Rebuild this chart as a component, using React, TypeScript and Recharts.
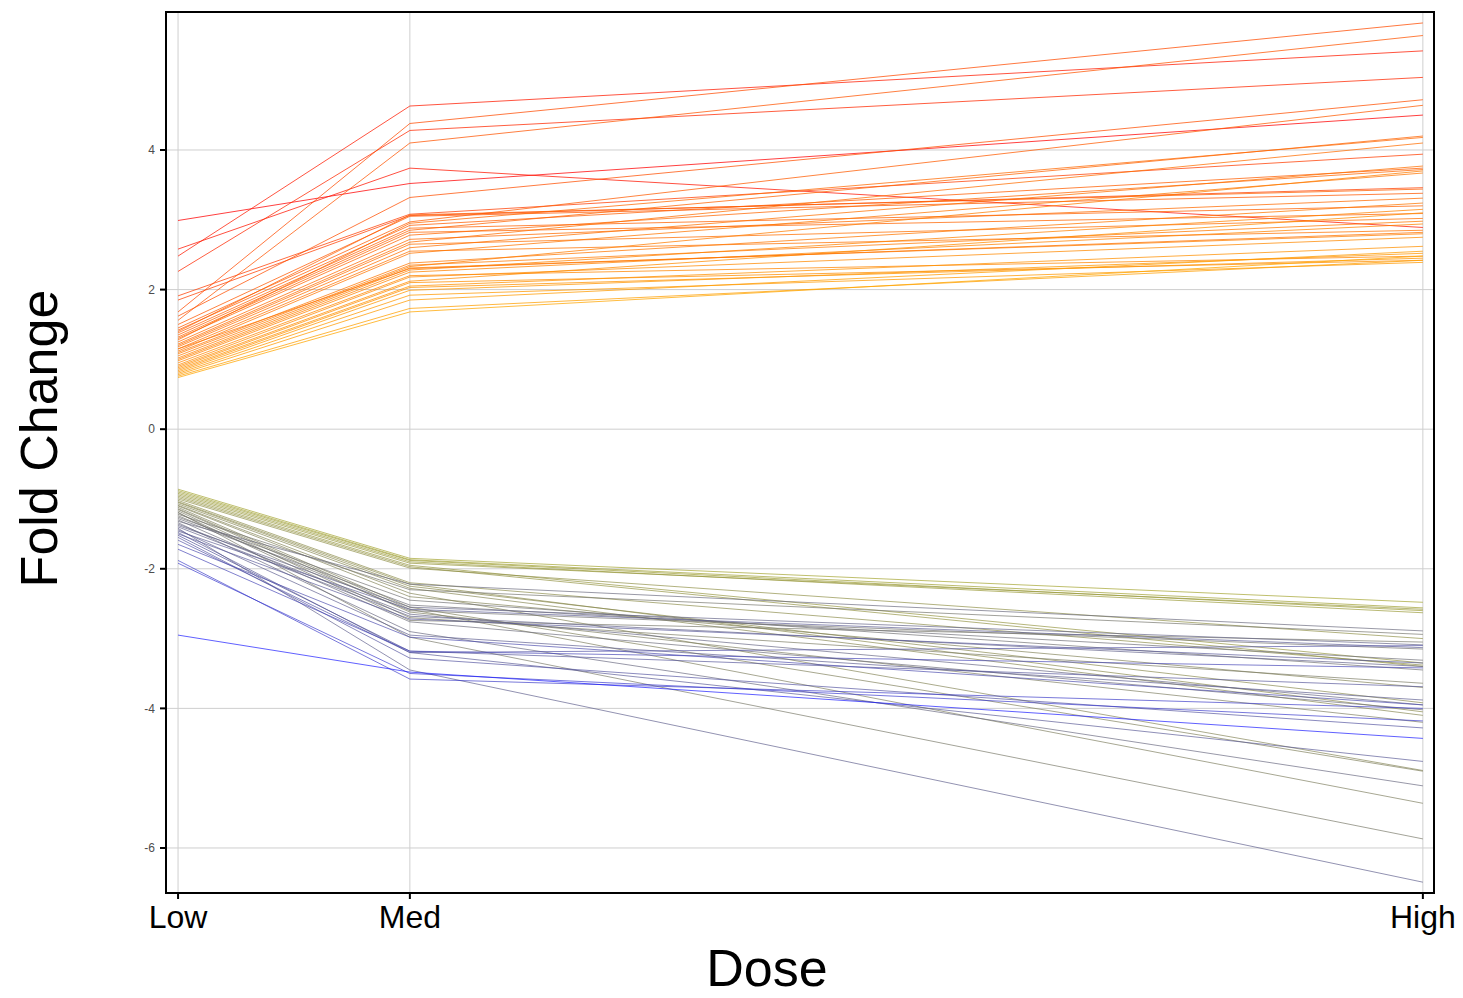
import { LineChart, Line, XAxis, YAxis, CartesianGrid, Label, ReferenceArea } from "recharts";

const FONT = '"Liberation Sans", Arial, sans-serif';

// dose positions on the x axis and their labels
const doses = [1, 2, 6.37];
const doseLabels = ["Low", "Med", "High"];
const yTicks = [-6, -4, -2, 0, 2, 4];
const xDomain = [0.948, 6.418];
const yDomain = [-6.645, 5.977];

// up-regulated genes: fold change at Low / Med / High
const upLow = [2.99, 2.58, 2.48, 2.26, 1.91, 1.85, 1.68, 1.62, 1.56, 1.5, 1.45, 1.42, 1.38, 1.35, 1.32, 1.3, 1.28, 1.25, 1.22, 1.2, 1.18, 1.15, 1.12, 1.1, 1.08, 1.05, 1.02, 1.0, 0.98, 0.95, 0.92, 0.9, 0.88, 0.86, 0.84, 0.82, 0.8, 0.78, 0.76, 0.74, 1.4, 1.15];
const upMed = [3.52, 3.74, 4.63, 4.28, 3.08, 3.06, 4.38, 3.32, 4.1, 3.05, 2.97, 2.92, 2.88, 2.85, 2.82, 2.78, 2.95, 2.72, 2.68, 2.65, 2.6, 2.55, 2.52, 2.38, 2.35, 2.33, 2.31, 2.28, 2.25, 2.2, 2.18, 2.12, 2.1, 2.05, 2.03, 1.99, 1.92, 1.85, 1.73, 1.68, 3.07, 2.3];
const upHigh = [4.5, 2.89, 5.42, 5.04, 3.94, 3.46, 5.82, 4.72, 5.64, 3.38, 4.64, 3.74, 3.2, 4.2, 3.09, 3.72, 4.18, 3.31, 4.1, 3.02, 3.77, 2.85, 3.67, 3.24, 2.98, 3.7, 2.8, 3.15, 2.94, 2.48, 2.75, 3.1, 2.42, 2.62, 2.45, 2.52, 2.39, 2.55, 2.42, 2.48, 3.44, 2.82];

// down-regulated genes
const downLow = [-0.86, -0.88, -0.9, -0.92, -0.94, -0.96, -0.98, -1.0, -1.02, -1.04, -1.05, -1.07, -1.09, -1.1, -1.12, -1.14, -1.15, -1.17, -1.19, -1.2, -1.22, -1.24, -1.26, -1.28, -1.3, -1.32, -1.34, -1.36, -1.38, -1.4, -1.42, -1.44, -1.46, -1.48, -1.5, -1.52, -1.55, -1.59, -1.65, -1.72, -1.88, -1.92, -2.95];
const downMed = [-1.85, -1.87, -1.88, -1.9, -1.92, -1.95, -1.97, -1.99, -2.2, -2.22, -2.25, -2.28, -2.35, -2.4, -2.55, -2.58, -2.62, -2.7, -2.98, -2.74, -2.3, -2.6, -2.45, -2.52, -2.76, -2.22, -2.9, -2.65, -2.55, -2.68, -3.45, -2.95, -2.58, -3.2, -2.72, -3.18, -3.28, -3.2, -2.98, -3.18, -3.58, -3.5, -3.48];
const downHigh = [-2.48, -2.56, -2.6, -2.63, -2.58, -3.35, -3.4, -3.0, -3.38, -4.05, -3.92, -4.1, -4.89, -3.7, -4.9, -5.36, -4.2, -3.64, -5.87, -3.05, -2.94, -3.15, -3.45, -3.31, -4.02, -2.89, -5.11, -3.95, -3.09, -3.4, -6.49, -3.88, -3.13, -4.76, -3.35, -3.69, -4.28, -3.1, -3.95, -3.42, -4.0, -4.18, -4.43];

const mix = (a: number[], b: number[], t: number) =>
  `rgb(${a.map((c, i) => Math.round(c + (b[i] - c) * t)).join(",")})`;

const upColor = (low: number) => {
  const t = Math.min(1, Math.max(0, (low - 0.74) / (2.99 - 0.74)));
  return mix([255, 165, 0], [255, 0, 0], Math.pow(t, 0.7));
};

const downColor = (low: number) => {
  const t = Math.min(1, Math.max(0, (low + 2.95) / (2.95 - 0.86)));
  return mix([20, 20, 255], [160, 160, 40], t * t);
};

const rows = doses.map((dose, i) => {
  const row: Record<string, number> = { dose };
  upLow.forEach((_, j) => {
    row[`u${j}`] = [upLow[j], upMed[j], upHigh[j]][i];
  });
  downLow.forEach((_, j) => {
    row[`d${j}`] = [downLow[j], downMed[j], downHigh[j]][i];
  });
  return row;
});

const series = [
  ...upLow.map((v, j) => ({ key: `u${j}`, color: upColor(v), op: 0.75 })),
  ...downLow.map((v, j) => ({ key: `d${j}`, color: downColor(v), op: 0.68 })),
];

const YTitle = ({ viewBox }: any) => {
  const x = viewBox.x + 57;
  const y = viewBox.y + viewBox.height / 2 - 14;
  return (
    <text
      x={x}
      y={y}
      transform={`rotate(-90, ${x}, ${y})`}
      textAnchor="middle"
      fontSize={52}
      fontFamily={FONT}
      fill="#000"
    >
      Fold Change
    </text>
  );
};

const XTitle = ({ viewBox }: any) => (
  <text
    x={viewBox.x + viewBox.width / 2 - 33}
    y={viewBox.y + viewBox.height - 12}
    textAnchor="middle"
    fontSize={52}
    fontFamily={FONT}
    fill="#000"
  >
    Dose
  </text>
);

const border = { stroke: "#000", strokeWidth: 2 };

export default function App() {
  return (
    <div style={{ position: "absolute", left: 0, top: 0, background: "#fff" }}>
      <LineChart
        width={1463}
        height={998}
        data={rows}
        margin={{ top: 12, right: 29, left: 0, bottom: 0 }}
      >
        <CartesianGrid stroke="#cfcfcf" strokeWidth={1} />
        <XAxis
          dataKey="dose"
          type="number"
          domain={xDomain}
          ticks={doses}
          allowDataOverflow
          tickFormatter={(v: number) => doseLabels[doses.indexOf(v)]}
          height={105}
          tick={{ fontSize: 32, fill: "#000", fontFamily: FONT }}
          tickMargin={6}
          tickLine={border}
          axisLine={border}
        >
          <Label content={XTitle} />
        </XAxis>
        <YAxis
          type="number"
          domain={yDomain}
          ticks={yTicks}
          allowDataOverflow
          width={166}
          tick={{ fontSize: 12, fill: "#4d4d4d", fontFamily: FONT }}
          tickMargin={5}
          tickLine={border}
          axisLine={border}
        >
          <Label content={YTitle} />
        </YAxis>
        {series.map((s) => (
          <Line
            key={s.key}
            dataKey={s.key}
            type="linear"
            stroke={s.color}
            strokeWidth={1}
            strokeOpacity={s.op}
            dot={false}
            activeDot={false}
            isAnimationActive={false}
          />
        ))}
        <ReferenceArea
          x1={xDomain[0]}
          x2={xDomain[1]}
          y1={yDomain[0]}
          y2={yDomain[1]}
          fill="none"
          fillOpacity={0}
          stroke="#000"
          strokeWidth={2}
          strokeOpacity={1}
          ifOverflow="visible"
        />
      </LineChart>
    </div>
  );
}
